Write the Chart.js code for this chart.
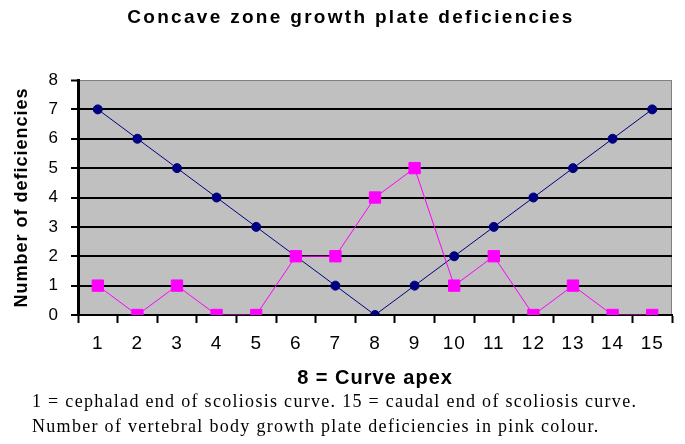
<!DOCTYPE html>
<html>
<head>
<meta charset="utf-8">
<script src="https://cdn.jsdelivr.net/npm/chart.js@4.4.1/dist/chart.umd.min.js"></script>
<style>
  html, body { margin: 0; padding: 0; background: #fff; }
  #wrap { width: 685px; height: 444px; }
</style>
</head>
<body>
<div id="wrap"><canvas id="chart" width="685" height="444"></canvas></div>
<script>
// --- Data ---
const vertebraLabels = ['1', '2', '3', '4', '5', '6', '7', '8', '9', '10', '11', '12', '13', '14', '15'];
const apexDistance = [7, 6, 5, 4, 3, 2, 1, 0, 1, 2, 3, 4, 5, 6, 7];
const plateDeficiencies = [1, 0, 1, 0, 0, 2, 2, 4, 5, 1, 2, 0, 1, 0, 0];
const yMin = 0;
const yMax = 8;
const yStep = 1;

const chartTitle = 'Concave zone growth plate deficiencies';
const xAxisTitle = '8 = Curve apex';
const yAxisTitle = 'Number of deficiencies';
const captionLines = [
    '1 = cephalad end of scoliosis curve. 15 = caudal end of scoliosis curve.',
    'Number of vertebral body growth plate deficiencies in pink colour.'
];

const SANS = '"Liberation Sans", Arial, sans-serif';
const SERIF = '"Liberation Serif", "Times New Roman", serif';

// grey plot area with a thin frame, like the old spreadsheet chart
const plotBackground = {
    id: 'plotBackground',
    beforeUpdate(chart) {
        chart.ctx.letterSpacing = '1px';
    },
    beforeDraw(chart) {
        const { ctx, chartArea: a } = chart;
        ctx.letterSpacing = '1px';
        ctx.save();
        ctx.fillStyle = '#c0c0c0';
        ctx.fillRect(a.left, a.top, a.width, a.height);
        ctx.strokeStyle = '#808080';
        ctx.lineWidth = 1;
        ctx.strokeRect(a.left + 0.5, a.top + 0.5, a.width - 1, a.height - 1);
        ctx.restore();
    }
};

// heading above and the two caption lines below the chart
const headingAndCaption = {
    id: 'headingAndCaption',
    afterDraw(chart) {
        const ctx = chart.ctx;
        ctx.save();
        ctx.fillStyle = '#000';
        ctx.textBaseline = 'middle';
        ctx.textAlign = 'center';
        ctx.letterSpacing = '2.3px';
        ctx.font = 'bold 19px ' + SANS;
        ctx.fillText(chartTitle, 351, 18);

        ctx.textAlign = 'left';
        ctx.letterSpacing = '1.3px';
        ctx.font = '18px ' + SERIF;
        captionLines.forEach((line, i) => {
            ctx.fillText(line, 32, 402 + i * 25);
        });
        ctx.restore();
    }
};

const ctx = document.getElementById('chart').getContext('2d');
new Chart(ctx, {
    type: 'line',
    data: {
        labels: vertebraLabels,
        datasets: [
            {
                label: 'Growth plate deficiencies',
                data: plateDeficiencies,
                borderColor: '#ff00ff',
                backgroundColor: '#ff00ff',
                borderWidth: 1,
                pointStyle: 'rect',
                pointRadius: 8,
                pointBorderWidth: 1,
                tension: 0
            },
            {
                label: 'Distance from apex',
                data: apexDistance,
                borderColor: '#000080',
                backgroundColor: '#000080',
                borderWidth: 1,
                pointStyle: 'circle',
                pointRadius: 4.5,
                pointBorderWidth: 1,
                tension: 0
            }
        ]
    },
    options: {
        responsive: false,
        devicePixelRatio: 1,
        animation: false,
        layout: { padding: { top: 80, right: 13, bottom: 54, left: 0 } },
        plugins: {
            legend: { display: false },
            title: { display: false },
            tooltip: { enabled: false }
        },
        scales: {
            x: {
                type: 'category',
                offset: true,
                grid: {
                    display: true,
                    offset: true,
                    drawOnChartArea: false,
                    drawTicks: true,
                    tickLength: 8,
                    tickColor: '#000',
                    tickWidth: 2
                },
                border: { display: true, color: '#000', width: 2 },
                ticks: {
                    color: '#000',
                    font: { family: SANS, size: 19 },
                    padding: 9,
                    maxRotation: 0,
                    autoSkip: false
                },
                title: {
                    display: true,
                    text: xAxisTitle,
                    color: '#000',
                    font: { family: SANS, size: 20, weight: 'bold' },
                    padding: 0
                },
                afterFit(scale) { scale.height = 75; }
            },
            y: {
                min: yMin,
                max: yMax,
                ticks: {
                    stepSize: yStep,
                    color: '#000',
                    font: { family: SANS, size: 17 },
                    padding: 12
                },
                grid: {
                    color: c => (c.tick && c.tick.value === yMax ? '#808080' : '#000'),
                    lineWidth: c => (c.tick && c.tick.value === yMax ? 1 : 2),
                    tickLength: 7,
                    tickColor: '#000',
                    tickWidth: 2
                },
                border: { display: true, color: '#000', width: 3 },
                title: {
                    display: true,
                    text: yAxisTitle,
                    color: '#000',
                    font: { family: SANS, size: 18, weight: 'bold' },
                    padding: { top: 11, bottom: 0 }
                },
                afterFit(scale) { scale.width = 78; }
            }
        }
    },
    plugins: [plotBackground, headingAndCaption]
});
</script>
</body>
</html>
